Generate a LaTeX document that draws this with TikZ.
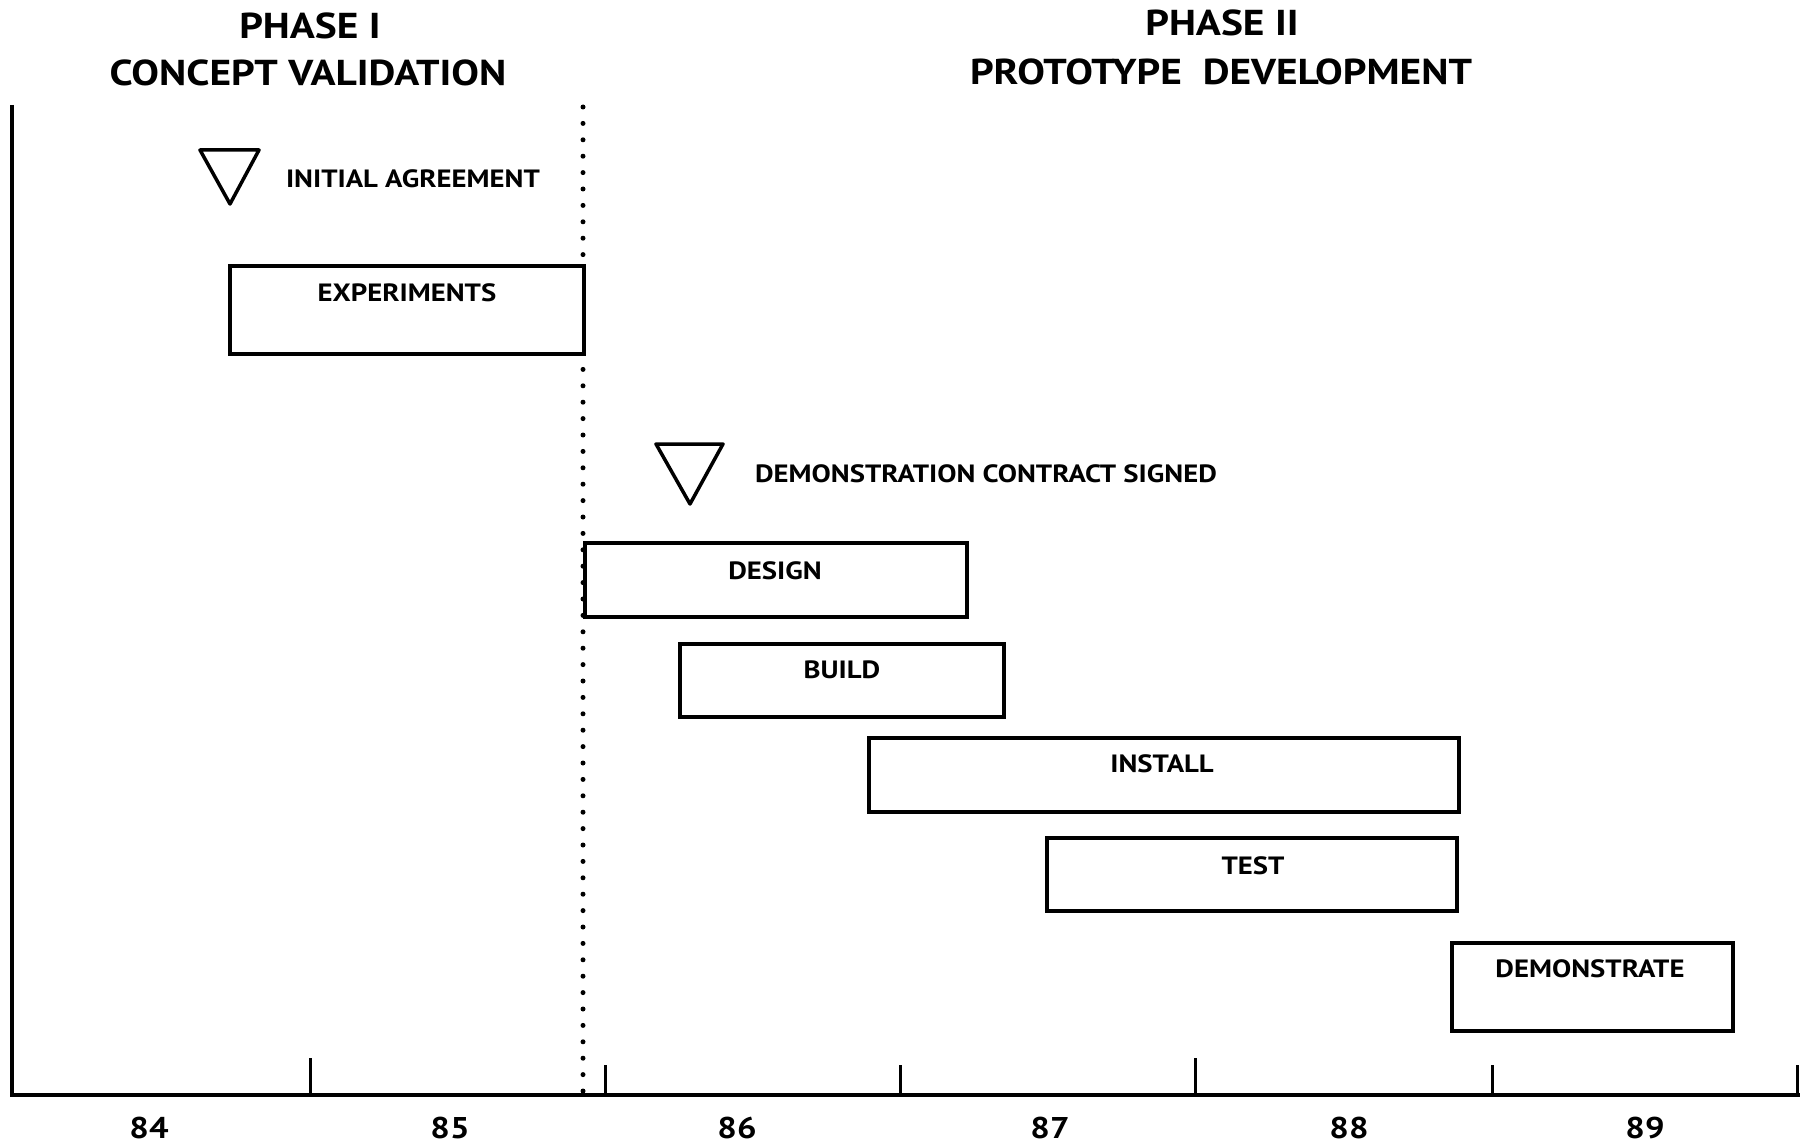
\documentclass[tikz,border=0pt]{standalone}
\usepackage{fontspec}
\setmainfont{PT Sans}[FakeStretch=1.15]
\begin{document}
\begin{tikzpicture}[x=1pt, y=-1pt, draw=black, line width=4pt,
	bar/.style={draw=black, fill=white, line width=4pt},
	txt/.style={inner sep=0pt, font=\bfseries\fontsize{25}{30}\selectfont},
	head/.style={inner sep=0pt, font=\bfseries\fontsize{36}{42}\selectfont},
	year/.style={inner sep=0pt, font=\bfseries\fontsize{30}{36}\selectfont}]
	\useasboundingbox (0,0) rectangle (1800,1145);
	% ueberschriften
	\node[head] (ph1)  at (310,26)  {PHASE I};
	\node[head] (cv)   at (308,73)  {CONCEPT VALIDATION};
	\node[head] (ph2)  at (1222,23) {PHASE II};
	\node[head] (pd)   at (1221,72) {PROTOTYPE\ \ DEVELOPMENT};
	% achsen
	\draw[line width=5pt, line cap=round, dash pattern=on 0pt off 16.4pt] (583,107) -- (583,1093);
	\draw[line width=4.5pt] (12,105) -- (12,1095) -- (1800,1095);
	\foreach \x/\t in {310/1058,605/1065,900/1065,1195/1058,1492/1065,1797/1065}
		\draw[line width=3pt] (\x,\t) -- (\x,1095);
	\foreach \yr/\x in {84/149,85/450,86/737,87/1050,88/1349,89/1645}
		\node[year] (y\yr) at (\x,1128) {\yr};
	% meilensteine
	\draw[line width=3.5pt, line join=round] (200,150) -- (259,150) -- (230,204) -- cycle;
	\node[txt, anchor=west] (agree)    at (284,179) {INITIAL AGREEMENT};
	\draw[line width=3.5pt, line join=round] (656,444) -- (723,444) -- (690,504) -- cycle;
	\node[txt, anchor=west] (contract) at (753,474) {DEMONSTRATION CONTRACT SIGNED};
	% balken
	\draw[bar] (230,266)  rectangle (584,354);  \node[txt] (exp)     at (407,293)  {EXPERIMENTS};
	\draw[bar] (585,543)  rectangle (967,617);  \node[txt] (design)  at (775,571)  {DESIGN};
	\draw[bar] (680,644)  rectangle (1004,717); \node[txt] (build)   at (842,670)  {BUILD};
	\draw[bar] (869,738)  rectangle (1459,812); \node[txt] (install) at (1162,764) {INSTALL};
	\draw[bar] (1047,838) rectangle (1457,911); \node[txt] (test)    at (1253,866) {TEST};
	\draw[bar] (1452,943) rectangle (1733,1031);\node[txt] (demo)    at (1590,969) {DEMONSTRATE};
\end{tikzpicture}
\end{document}
